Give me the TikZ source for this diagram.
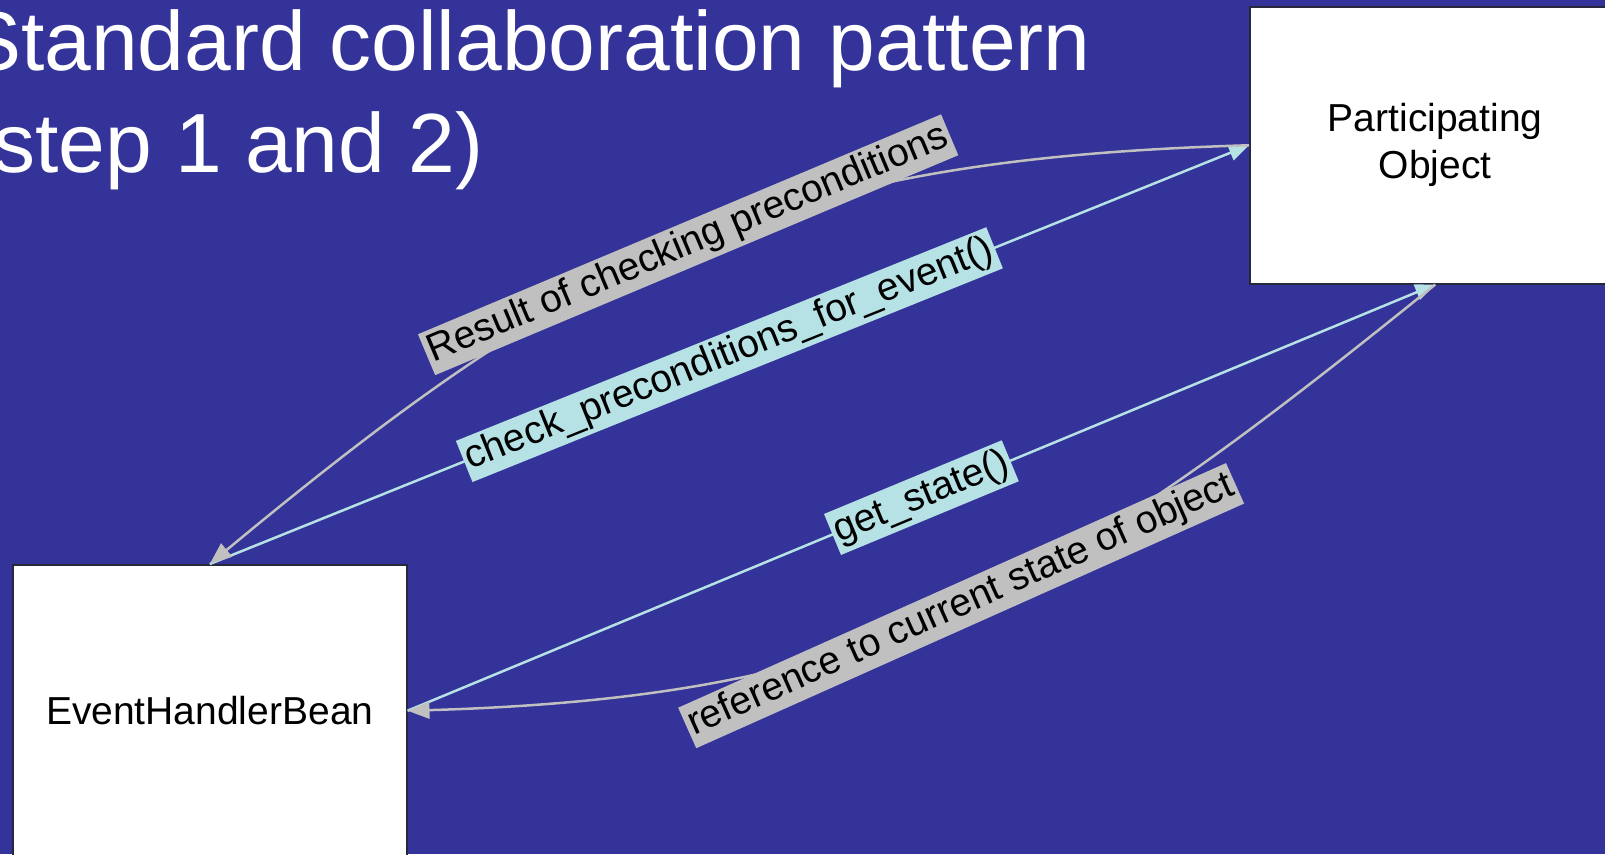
\documentclass[tikz,border=0pt]{standalone}
\usepackage{fontspec}
\setmainfont{Liberation Sans}
\usetikzlibrary{arrows.meta,calc}
\definecolor{bgblue}{RGB}{51,51,153}
\definecolor{lblue}{RGB}{182,226,230}
\definecolor{lgray}{RGB}{192,192,192}
\definecolor{boxborder}{RGB}{40,40,60}
\tikzset{
  objbox/.style={draw=boxborder, line width=1.5pt, fill=white, align=center,
    font=\fontsize{39}{47}\selectfont, inner sep=0pt},
  titletext/.style={text=white, font=\fontsize{84}{102}\selectfont, inner sep=0pt, anchor=base west},
  msgline/.style={draw=lblue, line width=2.5pt, -{Triangle[length=20pt,width=16pt]}},
  retline/.style={draw=lgray, line width=2.5pt, -{Triangle[length=22pt,width=17pt]}},
  msglab/.style={fill=lblue, font=\fontsize{39}{47}\selectfont, inner xsep=3pt, inner ysep=4pt, sloped},
  retlab/.style={fill=lgray, font=\fontsize{39}{47}\selectfont, inner xsep=3pt, inner ysep=4pt, sloped}
}
\begin{document}
\begin{tikzpicture}[x=1pt,y=-1pt]
\useasboundingbox (0,0) rectangle (1605,854);
\fill[bgblue] (0,0) rectangle (1605,854);
\clip (0,0) rectangle (1605,854);

\node[titletext] (t1) at (-35,70) {Standard collaboration pattern};
\node[titletext] (t2) at (-35,172) {(step 1 and 2)};

\node[objbox, anchor=north west, minimum width=371pt, minimum height=277pt] (po) at (1249,6) {Participating\\Object};
\node[objbox, anchor=north west, minimum width=394pt, minimum height=292pt] (ehb) at (12,564) {EventHandlerBean};

% step 1: check preconditions
\draw[msgline] (ehb.north) -- (po.west)
  node[msglab, pos=0.5] {check\_preconditions\_for\_event()};
\draw[retline] (po.west) .. controls ($(po.west)+(-480,14)$) and ($(ehb.north)+(370,-307)$) .. (ehb.north)
  node[retlab, pos=0.5] {Result of checking preconditions};

% step 2: get state
\draw[msgline] (ehb.east) -- (po.south)
  node[msglab, pos=0.5] {get\_state()};
\draw[retline] (po.south) .. controls ($(po.south)+(-374,302)$) and ($(ehb.east)+(480,-14)$) .. (ehb.east)
  node[retlab, pos=0.5] {reference to current state of object};
\end{tikzpicture}
\end{document}
